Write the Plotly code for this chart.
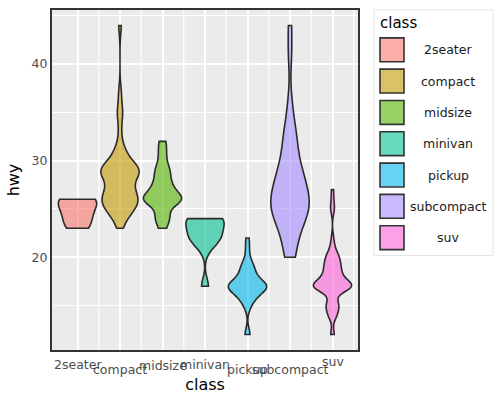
import numpy as np
import plotly.graph_objects as go

categories = ["2seater", "compact", "midsize", "minivan", "pickup", "subcompact", "suv"]
colors = ["#F8766D", "#C49A00", "#53B400", "#00C094", "#00B6EB", "#A58AFF", "#FB61D7"]

def rep(counts):
    out = []
    for v, c in counts:
        out += [v] * c
    return out

hwy_2seater = [26, 23, 26, 25, 24]
hwy_compact = [29, 29, 31, 30, 26, 26, 27, 26, 25, 28, 27, 25, 25, 25, 25,
               31, 31, 29, 28, 27, 27, 26, 30, 33, 35, 37, 35, 29, 44, 29, 29,
               29, 29, 23, 24, 26, 26, 26, 25, 27, 26, 29, 29, 28, 29, 29, 24]
hwy_midsize = rep([(23, 2), (24, 4), (25, 3), (26, 12), (27, 6), (28, 4), (29, 4),
                   (30, 2), (31, 2), (32, 2)])
hwy_minivan = [24, 24, 22, 22, 24, 24, 17, 22, 21, 23, 23]
hwy_pickup = rep([(12, 2), (15, 2), (16, 5), (17, 13), (18, 4), (19, 4), (20, 1),
                  (21, 1), (22, 1)])
hwy_subcompact = rep([(20, 2), (21, 1), (22, 1), (23, 2), (24, 3), (25, 4), (26, 5),
                      (27, 2), (28, 3), (29, 3), (30, 1), (31, 1), (32, 2), (33, 1),
                      (34, 1), (36, 1), (41, 1), (44, 1)])
hwy_suv = rep([(12, 2), (14, 4), (15, 6), (16, 2), (17, 20), (18, 8), (19, 7),
               (20, 6), (21, 2), (22, 1), (25, 2), (26, 1), (27, 1)])

series = [hwy_2seater, hwy_compact, hwy_midsize, hwy_minivan, hwy_pickup,
          hwy_subcompact, hwy_suv]

y_ticks = [20, 30, 40]
label_dy = [14, 19, 15, 14, 19, 19, 11]  # staggered tick label offsets (px below panel)

W, H = 500, 400
L, R, T, B = 52, 142, 8, 50
PW, PH = W - L - R, H - T - B


def px_x(p):
    return (p - L) / PW


def px_y(p):
    return (H - B - p) / PH


def bw_nrd0(v):
    v = np.asarray(v, float)
    sd = v.std(ddof=1)
    iqr = np.subtract(*np.percentile(v, [75, 25]))
    lo = min(sd, iqr / 1.34)
    if lo <= 0:
        lo = sd
    return 0.9 * lo * len(v) ** -0.2


def rgba(h, a):
    h = h.lstrip("#")
    return "rgba(%d,%d,%d,%.2f)" % (int(h[0:2], 16), int(h[2:4], 16), int(h[4:6], 16), a)


fig = go.Figure()
for cat, col, vals in zip(categories, colors, series):
    fig.add_trace(go.Violin(
        x=[cat] * len(vals), y=vals, name=cat,
        fillcolor=rgba(col, 0.6), line=dict(color="#2B2B2B", width=1.6),
        spanmode="hard", scalemode="width", width=0.9,
        bandwidth=bw_nrd0(vals), points=False,
        box_visible=False, meanline_visible=False, showlegend=False,
    ))

shapes = []
# minor vertical gridlines between categories
for i in range(len(categories)):
    shapes.append(dict(type="line", xref="x", yref="paper", x0=i + 0.5, x1=i + 0.5,
                       y0=0, y1=1, line=dict(color="white", width=1.2), layer="below"))

annotations = []
for cat, dy in zip(categories, label_dy):
    annotations.append(dict(x=cat, xref="x", y=0, yref="paper", text=cat,
                            showarrow=False, yanchor="middle", yshift=-dy,
                            font=dict(family="DejaVu Sans", size=12.5, color="#4D4D4D")))

# manual legend
shapes.append(dict(type="rect", xref="paper", yref="paper",
                   x0=px_x(374), x1=px_x(493), y0=px_y(255), y1=px_y(8),
                   line=dict(color="#E3E3E3", width=1), fillcolor="white", layer="below"))
annotations.append(dict(x=px_x(378), y=px_y(21), xref="paper", yref="paper",
                        text="class", showarrow=False, xanchor="left", yanchor="middle",
                        font=dict(family="DejaVu Sans", size=15, color="black")))
for i, (cat, col) in enumerate(zip(categories, colors)):
    cy = 48 + i * 31.5
    shapes.append(dict(type="rect", xref="paper", yref="paper",
                       x0=px_x(380), x1=px_x(404), y0=px_y(cy + 12), y1=px_y(cy - 12),
                       line=dict(color="#333333", width=1.6), fillcolor=rgba(col, 0.6)))
    annotations.append(dict(x=px_x(448), y=px_y(cy), xref="paper", yref="paper",
                            text=cat, showarrow=False, xanchor="center", yanchor="middle",
                            font=dict(family="DejaVu Sans", size=12.5, color="#1A1A1A")))

fig.update_layout(
    width=W, height=H, margin=dict(l=L, r=R, t=T, b=B),
    paper_bgcolor="white", plot_bgcolor="#EBEBEB",
    font=dict(family="DejaVu Sans"),
    shapes=shapes, annotations=annotations, showlegend=False,
    xaxis=dict(type="category", categoryorder="array", categoryarray=categories,
               range=[-0.6, len(categories) - 0.4], showticklabels=False,
               showgrid=True, gridcolor="white", gridwidth=1.6,
               showline=True, linecolor="#333333", linewidth=2, mirror=True,
               zeroline=False, ticks="",
               title=dict(text="class", font=dict(size=16, color="black"), standoff=28)),
    yaxis=dict(range=[10.4, 45.6], tickvals=y_ticks, showgrid=True,
               gridcolor="white", gridwidth=1.6,
               minor=dict(dtick=5, tick0=0, showgrid=True, gridcolor="white", gridwidth=1.2),
               showline=True, linecolor="#333333", linewidth=2, mirror=True,
               zeroline=False, ticks="",
               tickfont=dict(size=12.5, color="#4D4D4D"),
               title=dict(text="hwy", font=dict(size=16, color="black"), standoff=8)),
)

fig.write_html("out.html")
